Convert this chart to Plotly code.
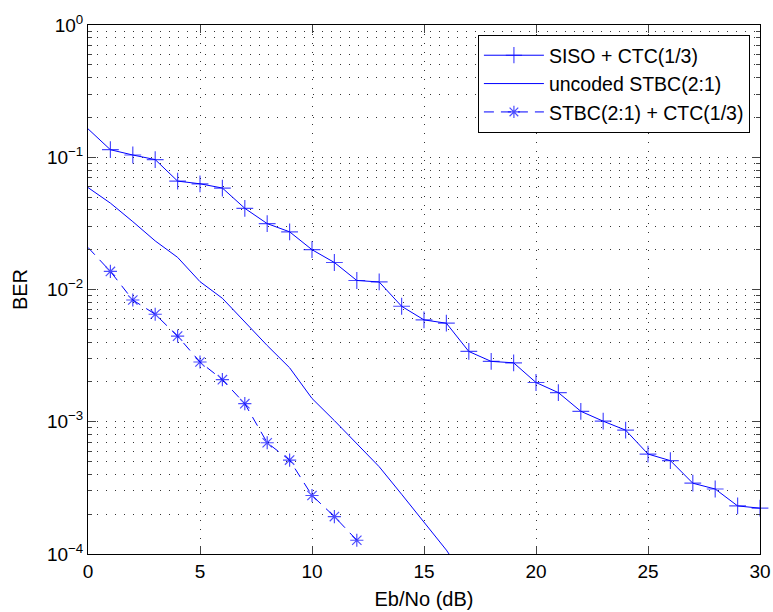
import plotly.graph_objects as go

ebno = list(range(0, 31))
siso_ctc = [0.164, 0.114, 0.104, 0.096, 0.066, 0.063, 0.0585, 0.0411, 0.0315, 0.0273,
            0.0200, 0.0160, 0.0117, 0.0114, 0.00747, 0.00589, 0.00556, 0.00340, 0.00286, 0.00279,
            0.00198, 0.00166, 0.00120, 0.00101, 0.000864, 0.00057, 0.000508, 0.000343, 0.00031, 0.000231,
            0.000222]

ebno_unc = list(range(0, 18))
uncoded_stbc = [0.059, 0.045, 0.0326, 0.0233, 0.0175, 0.01146, 0.00858, 0.00566, 0.00377, 0.00256,
                0.0015, 0.00102, 0.000686, 0.000457, 0.000283, 0.000174, 0.000107, 0.00006]

ebno_stbc = list(range(0, 13))
stbc_ctc = [0.0208, 0.0137, 0.00833, 0.0065, 0.00444, 0.00283, 0.00208, 0.00137, 0.000694, 0.000513,
            0.000277, 0.000192, 0.000127]

names = ["SISO + CTC(1/3)", "uncoded STBC(2:1)", "STBC(2:1) + CTC(1/3)"]
ytick_vals = [1, 0.1, 0.01, 0.001, 0.0001]
ytick_text = ["10<sup>0</sup>", "10<sup>\u22121</sup>", "10<sup>\u22122</sup>", "10<sup>\u22123</sup>", "10<sup>\u22124</sup>"]

BLUE = "#0000ff"
FONT = "Liberation Sans, Arial, Helvetica, sans-serif"

fig = go.Figure()
fig.add_trace(go.Scatter(
    x=ebno, y=siso_ctc, name=names[0], mode="lines+markers",
    line=dict(color=BLUE, width=1),
    marker=dict(symbol="cross-thin-open", size=[0] + [12] * (len(ebno) - 1),
                line=dict(color=BLUE, width=1.2), color=BLUE),
    cliponaxis=False,
))
fig.add_trace(go.Scatter(
    x=ebno_unc, y=uncoded_stbc, name=names[1], mode="lines",
    line=dict(color=BLUE, width=1),
))
fig.add_trace(go.Scatter(
    x=ebno_stbc, y=stbc_ctc, name=names[2], mode="lines+markers",
    line=dict(color=BLUE, width=1, dash="10px,7px"),
    marker=dict(symbol="asterisk-open", size=[0] + [11] * (len(ebno_stbc) - 1),
                line=dict(color=BLUE, width=1.2), color=BLUE),
))

grid = dict(showgrid=True, gridcolor="#333", griddash="1px,8px", gridwidth=1)

fig.update_layout(
    width=773, height=612,
    margin=dict(l=88, r=13, t=25, b=58, autoexpand=False),
    paper_bgcolor="white", plot_bgcolor="white",
    font=dict(family=FONT, size=20, color="black"),
    showlegend=True,
    legend=dict(x=0.985, y=0.981, xanchor="right", yanchor="top",
                bgcolor="white", bordercolor="black", borderwidth=1,
                font=dict(size=19.5), itemwidth=60, tracegroupgap=0),
    xaxis=dict(range=[0, 30], dtick=5, tick0=0, ticks="inside", ticklen=8,
               showline=True, linecolor="black", linewidth=1, mirror="allticks",
               zeroline=False, tickfont=dict(size=19), automargin=False,
               title=dict(text="Eb/No (dB)", font=dict(size=20), standoff=11),
               **grid),
    yaxis=dict(type="log", range=[-4, 0], tickvals=ytick_vals, ticktext=ytick_text,
               ticks="inside", ticklen=8, showline=True, linecolor="black", linewidth=1,
               mirror="allticks", zeroline=False, tickfont=dict(size=19), automargin=False,
               title=dict(text="BER", font=dict(size=20), standoff=13),
               minor=dict(ticks="inside", ticklen=4, showgrid=True, gridcolor="#333",
                          griddash="1px,8px", gridwidth=1,
                          tickvals=[m * 10 ** e for e in range(-4, 0) for m in range(2, 10)]),
               **grid),
)

fig.write_html("out.html")
